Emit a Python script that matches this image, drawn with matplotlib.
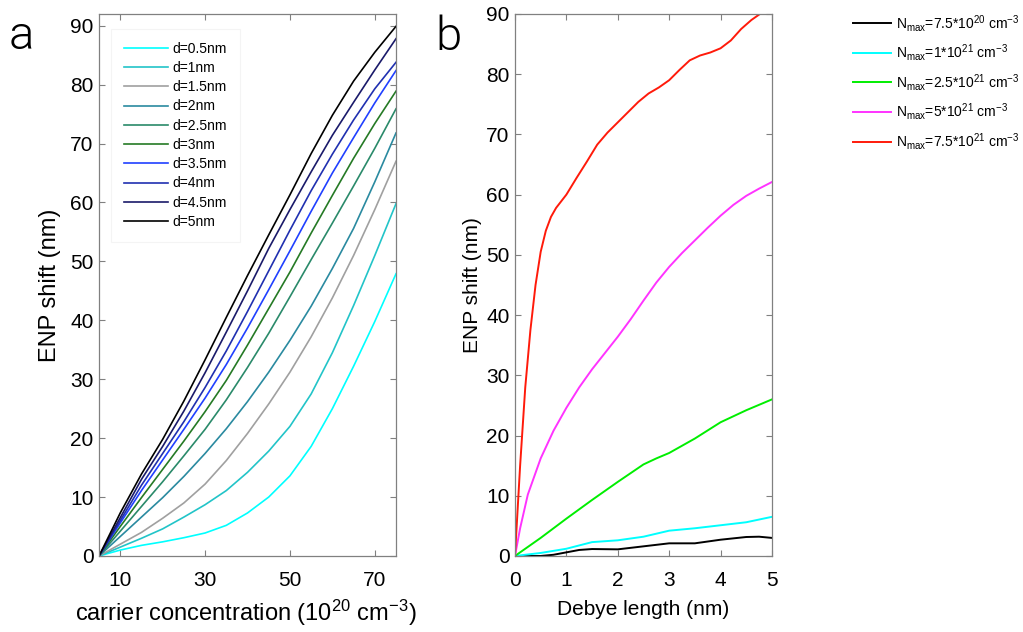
import matplotlib
matplotlib.use('Agg')
import matplotlib.pyplot as plt

plt.rcParams['font.family'] = 'Liberation Sans'
plt.rcParams['mathtext.fontset'] = 'custom'
plt.rcParams['mathtext.rm'] = 'Liberation Sans'
plt.rcParams['mathtext.it'] = 'Liberation Sans:italic'
plt.rcParams['mathtext.default'] = 'regular'

# ---- panel a: ENP shift vs carrier concentration (10^20 cm^-3) ----
conc = [5, 10, 15, 20, 25, 30, 35, 40, 45, 50, 55, 60, 65, 70, 75]
shift_d05 = [0, 1.0, 1.8, 2.4, 3.1, 3.9, 5.2, 7.3, 10.0, 13.6, 18.6, 25.0, 32.2, 39.8, 47.9]
shift_d1 = [0, 1.5, 3.0, 4.6, 6.6, 8.7, 11.1, 14.2, 17.8, 22.0, 27.5, 34.5, 42.5, 51.0, 59.8]
shift_d15 = [0, 2.0, 4.0, 6.4, 9.0, 12.2, 16.2, 20.8, 25.8, 31.2, 37.2, 43.8, 51.0, 58.8, 67.0]
shift_d2 = [0, 3.3, 6.6, 9.9, 13.5, 17.4, 21.6, 26.2, 31.2, 36.6, 42.4, 48.8, 55.6, 63.5, 71.8]
shift_d25 = [0, 4.2, 8.4, 12.6, 17.0, 21.5, 26.5, 32.0, 37.8, 44.0, 50.3, 56.5, 62.8, 69.2, 75.9]
shift_d3 = [0, 5.0, 9.9, 14.7, 19.5, 24.5, 29.8, 35.8, 42.0, 48.2, 54.8, 61.2, 67.5, 73.4, 78.9]
shift_d35 = [0, 5.6, 11.1, 16.3, 21.5, 26.8, 32.5, 38.7, 45.2, 51.8, 58.5, 65.0, 71.0, 76.9, 82.4]
shift_d4 = [0, 6.0, 12.0, 17.4, 22.8, 28.6, 34.8, 41.5, 48.4, 55.3, 62.0, 68.2, 74.0, 79.3, 83.8]
shift_d45 = [0, 6.5, 13.0, 18.6, 24.6, 31.1, 38.0, 45.0, 52.2, 58.8, 65.2, 71.4, 77.0, 82.5, 87.8]
shift_d5 = [0, 7.3, 13.9, 19.8, 26.3, 33.3, 40.5, 47.6, 54.5, 61.3, 68.3, 74.8, 80.6, 85.5, 89.9]

a_labels = ['d=0.5nm', 'd=1nm', 'd=1.5nm', 'd=2nm', 'd=2.5nm',
            'd=3nm', 'd=3.5nm', 'd=4nm', 'd=4.5nm', 'd=5nm']
a_colors = ['#00ffff', '#22c4c8', '#a0a0a0', '#2a8aa0', '#2a8a6a',
            '#257a25', '#2040ff', '#2030b0', '#1a1a6a', '#000000']
a_ys = [shift_d05, shift_d1, shift_d15, shift_d2, shift_d25,
        shift_d3, shift_d35, shift_d4, shift_d45, shift_d5]

# ---- panel b: ENP shift vs Debye length (nm) ----
b_x_1 = [0, 0.5, 0.75, 1.0, 1.25, 1.5, 2.0, 2.5, 3.0, 3.5, 4.0, 4.5, 4.75, 5.0]
b_y_1 = [0, 0, 0.2, 0.6, 1.0, 1.15, 1.1, 1.6, 2.1, 2.1, 2.7, 3.15, 3.2, 3.0]
b_x_2 = [0, 0.5, 1.0, 1.5, 2.0, 2.5, 3.0, 3.5, 4.0, 4.5, 5.0]
b_y_2 = [0, 0.5, 1.2, 2.3, 2.6, 3.2, 4.2, 4.6, 5.1, 5.6, 6.5]
b_x_3 = [0, 0.5, 1.0, 1.5, 2.0, 2.5, 2.75, 3.0, 3.5, 4.0, 4.5, 5.0]
b_y_3 = [0, 3, 6.2, 9.3, 12.3, 15.2, 16.2, 17.1, 19.5, 22.2, 24.2, 26]
b_x_4 = [0, 0.1, 0.25, 0.5, 0.75, 1.0, 1.25, 1.5, 1.75, 2.0, 2.25, 2.5, 2.75,
         3.0, 3.25, 3.5, 3.75, 4.0, 4.25, 4.5, 4.75, 5.0]
b_y_4 = [0, 4.6, 10.2, 16.2, 20.8, 24.6, 28.0, 31.0, 33.7, 36.4, 39.3, 42.4, 45.4,
         48.0, 50.3, 52.4, 54.5, 56.5, 58.3, 59.8, 61.0, 62.1]
b_x_5 = [0, 0.1, 0.2, 0.3, 0.4, 0.5, 0.6, 0.7, 0.8, 1.0, 1.2, 1.4, 1.6, 1.8,
         2.0, 2.2, 2.4, 2.6, 2.8, 3.0, 3.2, 3.4, 3.6, 3.8, 4.0, 4.2, 4.4,
         4.6, 4.8, 5.0]
b_y_5 = [0, 15, 28, 37.5, 45, 50.5, 54, 56.3, 57.8, 60, 62.8, 65.5, 68.3, 70.3,
         72, 73.7, 75.4, 76.8, 77.8, 79, 80.7, 82.3, 83.1, 83.6, 84.3, 85.6, 87.5,
         89, 90.2, 91]

b_labels = [r'N$_{max}$=7.5*10$^{20}$ cm$^{-3}$', r'N$_{max}$=1*10$^{21}$ cm$^{-3}$',
            r'N$_{max}$=2.5*10$^{21}$ cm$^{-3}$', r'N$_{max}$=5*10$^{21}$ cm$^{-3}$',
            r'N$_{max}$=7.5*10$^{21}$ cm$^{-3}$']
b_colors = ['#000000', '#00ffff', '#00ee00', '#ff33ff', '#ff1a0a']
b_xs = [b_x_1, b_x_2, b_x_3, b_x_4, b_x_5]
b_ys = [b_y_1, b_y_2, b_y_3, b_y_4, b_y_5]

spine_col = '#808080'

fig = plt.figure(figsize=(10.23, 6.32), dpi=100)
ax_a = fig.add_axes([0.0968, 0.1203, 0.2903, 0.8576])
ax_b = fig.add_axes([0.5034, 0.1203, 0.2512, 0.8576])

def style(ax):
    for s in ax.spines.values():
        s.set_color(spine_col)
        s.set_linewidth(0.9)
    ax.tick_params(direction='in', top=True, right=True, length=4, width=0.8,
                   color=spine_col, labelsize=15, labelcolor='black')
    ax.tick_params(axis='y', pad=4)
    ax.tick_params(axis='x', pad=11)

for y, c, lab in zip(a_ys, a_colors, a_labels):
    ax_a.plot(conc, y, color=c, lw=1.2, label=lab)
ax_a.set_xlim(5, 75)
ax_a.set_ylim(0, 92)
ax_a.set_xticks([10, 30, 50, 70])
ax_a.set_yticks(range(0, 91, 10))
style(ax_a)
ax_a.set_ylabel('ENP shift (nm)', fontsize=17)
ax_a.yaxis.set_label_coords(-0.128, 0.5)
ax_a.set_xlabel(r'carrier concentration (10$^{20}$ cm$^{-3}$)', fontsize=17)
ax_a.xaxis.set_label_coords(0.493, -0.078)
leg_a = ax_a.legend(loc='upper left', bbox_to_anchor=(0.017, 0.985), fontsize=10,
                    handlelength=3.2, handletextpad=0.35, labelspacing=0.38,
                    borderpad=0.9, fancybox=False, edgecolor='#f2f2f2')
leg_a.get_frame().set_linewidth(0.8)

for x, y, c, lab in zip(b_xs, b_ys, b_colors, b_labels):
    ax_b.plot(x, y, color=c, lw=1.4, label=lab)
ax_b.set_xlim(0, 5)
ax_b.set_ylim(0, 90)
ax_b.set_xticks(range(0, 6))
ax_b.set_yticks(range(0, 91, 10))
style(ax_b)
ax_b.set_ylabel('ENP shift (nm)', fontsize=15)
ax_b.yaxis.set_label_coords(-0.13, 0.5)
ax_b.set_xlabel('Debye length (nm)', fontsize=15)
ax_b.xaxis.set_label_coords(0.498, -0.081)
ax_b.legend(loc='upper left', bbox_to_anchor=(840 / 1023, 1.0),
            bbox_transform=fig.transFigure, fontsize=10, frameon=False,
            handlelength=2.8, handletextpad=0.36, labelspacing=0.62, borderpad=0.4)

fig.text(9 / 1023, 1 - 49 / 632, 'a', fontsize=34, family='Roboto',
         fontweight=300, va='baseline')
fig.text(435 / 1023, 1 - 50 / 632, 'b', fontsize=34, family='Roboto',
         fontweight=300, va='baseline')

fig.savefig('out.png', dpi=100)
